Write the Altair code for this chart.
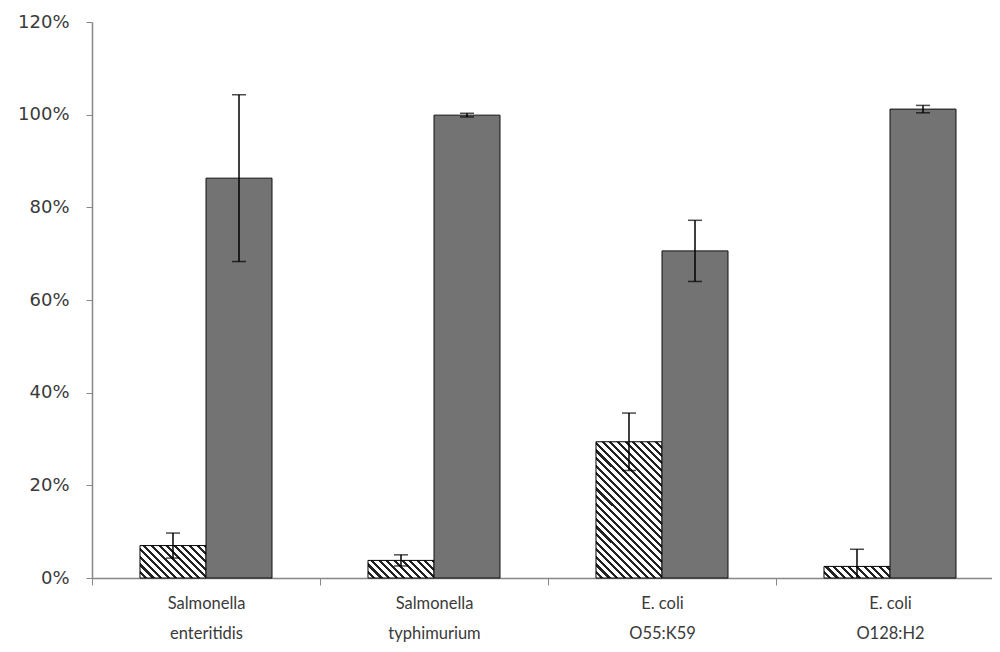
import altair as alt
import pandas as pd

categories = ["Salmonella\nenteritidis", "Salmonella\ntyphimurium", "E. coli\nO55:K59", "E. coli\nO128:H2"]
series = ["Hatched", "Dotted"]
hatched_values = [7.0, 3.8, 29.4, 2.5]
hatched_errors = [2.7, 1.2, 6.2, 3.7]
dotted_values = [86.3, 99.9, 70.6, 101.2]
dotted_errors = [18.0, 0.4, 6.6, 0.8]
y_ticks = [0, 20, 40, 60, 80, 100, 120]

rows = []
for c, v, e in zip(categories, hatched_values, hatched_errors):
    rows.append({"category": c, "series": "Hatched", "value": v, "lower": v - e, "upper": v + e})
for c, v, e in zip(categories, dotted_values, dotted_errors):
    rows.append({"category": c, "series": "Dotted", "value": v, "lower": v - e, "upper": v + e})
df = pd.DataFrame(rows)

PLOT_H = 556
Y_MAX = 120
PX_PER_UNIT = PLOT_H / Y_MAX
BAR_W = 66
PERIOD = 7.6


def hatch(h):
    w = BAR_W
    k = (w + h) / (w * w + h * h)
    n = (w + h) / PERIOD
    p = 1.0 / n
    stops = []
    j = 0
    while j * p < 1.0:
        a = j * p
        b = min(1.0, a + 0.58 * p)
        c = min(1.0, (j + 1) * p)
        stops.append(alt.GradientStop(offset=a, color="white"))
        stops.append(alt.GradientStop(offset=b, color="white"))
        stops.append(alt.GradientStop(offset=b, color="#222222"))
        stops.append(alt.GradientStop(offset=c, color="#222222"))
        j += 1
    return alt.LinearGradient(gradient="linear", stops=stops, x1=0, y1=1, x2=k * w, y2=1 - k * h)


x_enc = alt.X(
    "category:N",
    sort=categories,
    scale=alt.Scale(range=[0, 912], paddingInner=0, paddingOuter=0),
    axis=alt.Axis(
        title=None,
        labelAngle=0,
        labelExpr="split(datum.label, '\\n')",
        tickBand="extent",
        tickSize=7,
        labelPadding=10,
        labelLineHeight=30,
        labelFontSize=16.5,
        labelFont="Lato",
    ),
)
xo_enc = alt.XOffset("series:N", sort=series, scale=alt.Scale(paddingInner=0, paddingOuter=0.727))
y_enc = alt.Y(
    "value:Q",
    scale=alt.Scale(domain=[0, Y_MAX]),
    axis=alt.Axis(
        title=None,
        values=y_ticks,
        labelExpr="datum.value + '%'",
        grid=False,
        tickSize=6,
        labelPadding=17,
        labelFontSize=18,
        labelFont="DejaVu Sans",
    ),
)

base = alt.Chart(df)

layers = []
for c, v in zip(categories, hatched_values):
    layers.append(
        base.transform_filter((alt.datum.category == c) & (alt.datum.series == "Hatched"))
        .mark_bar(fill=hatch(v * PX_PER_UNIT), stroke="black", strokeWidth=1)
        .encode(x=x_enc, xOffset=xo_enc, y=y_enc)
    )

dotted = (
    base.transform_filter(alt.datum.series == "Dotted")
    .mark_bar(fill="#737373", stroke="#111111", strokeWidth=1)
    .encode(x=x_enc, xOffset=xo_enc, y=y_enc)
)
layers.append(dotted)

err = base.mark_rule(color="black", strokeWidth=1.5, clip=True).encode(
    x=x_enc, xOffset=xo_enc, y="lower:Q", y2="upper:Q"
)
cap_hi = base.mark_tick(color="black", size=14, thickness=1.5, clip=True).encode(
    x=x_enc, xOffset=xo_enc, y="upper:Q"
)
cap_lo = base.mark_tick(color="black", size=14, thickness=1.5, clip=True).encode(
    x=x_enc, xOffset=xo_enc, y="lower:Q"
)
layers += [err, cap_hi, cap_lo]

chart = (
    alt.layer(*layers)
    .properties(
        width=900,
        height=PLOT_H,
        autosize=alt.AutoSizeParams(type="none"),
        padding={"left": 84, "top": 14, "right": 0, "bottom": 70},
        background="white",
    )
    .configure_view(stroke=None)
    .configure_axis(
        domainColor="#878787",
        tickColor="#878787",
        domainWidth=1.5,
        labelColor="#3a3a3a",
    )
)

chart.save("out.html", embed_options={"renderer": "svg", "actions": False})
